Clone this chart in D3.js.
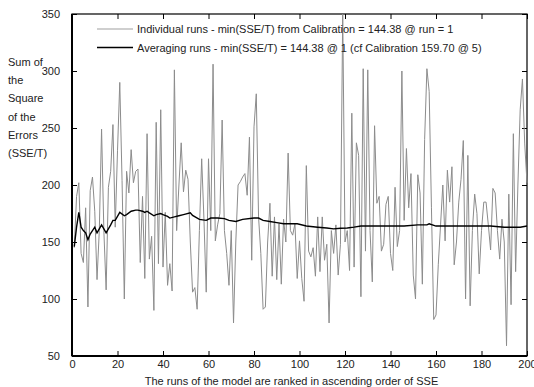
<!DOCTYPE html>
<html>
<head>
<meta charset="utf-8">
<script src="https://cdn.jsdelivr.net/npm/d3@7"></script>
<style>
  body { margin: 0; background: #fff; }
  svg { font-family: "Liberation Sans", Arial, sans-serif; }
  .axis path, .axis line { stroke: #000; }
  .axis text { font-size: 11px; fill: #222; }
</style>
</head>
<body>
<div id="chart"></div>
<script>
// individual runs, SSE/T for runs 1..200
const runValues = [
  145, 190, 202, 140, 132, 180, 93, 195, 207, 177,
  117, 160, 249, 160, 108, 198, 212, 253, 163, 230,
  290, 204, 100, 212, 193, 231, 202, 212, 214, 132,
  190, 118, 245, 135, 155, 90, 255, 131, 266, 128,
  176, 112, 131, 107, 301, 160, 200, 237, 194, 213,
  205, 150, 106, 110, 91, 160, 223, 170, 106, 223,
  160, 306, 151, 165, 175, 257, 160, 140, 112, 160,
  79, 150, 200, 203, 207, 210, 191, 242, 134, 251,
  280, 172, 140, 91, 93, 150, 184, 120, 172, 117,
  166, 113, 170, 150, 228, 160, 156, 166, 118, 151,
  118, 98, 217, 142, 137, 145, 120, 172, 124, 172,
  134, 148, 79, 160, 140, 165, 121, 148, 350, 150,
  160, 125, 263, 128, 237, 226, 102, 302, 142, 301,
  160, 115, 252, 184, 190, 142, 148, 183, 190, 140,
  125, 198, 146, 160, 300, 169, 232, 180, 210, 121,
  100, 209, 193, 113, 240, 302, 282, 180, 82, 86,
  130, 165, 200, 151, 213, 185, 216, 130, 150, 185,
  205, 239, 100, 226, 94, 160, 192, 175, 122, 160,
  185, 185, 165, 143, 197, 193, 160, 135, 170, 150,
  59, 192, 95, 245, 124, 200, 266, 293, 236, 202
]

// averaging runs, read at these run numbers
const avgRuns = [1, 2, 3, 4, 5, 6, 7, 8, 10, 11, 13, 15, 17, 18, 19, 21, 23, 24, 26, 28,
  29, 31, 32, 33, 34, 36, 37, 39, 40, 42, 43, 45, 47, 49, 52, 53, 56, 59, 61, 64,
  67, 69, 72, 75, 80, 82, 84, 87, 90, 93, 96, 99, 103, 108, 112, 115, 118, 121, 124, 127,
  130, 134, 138, 143, 146, 152, 156, 157, 160, 166, 172, 178, 184, 190, 194, 197, 200]
const avgValues = [146, 163, 176, 163, 160, 158, 152, 157, 163, 158, 165, 158, 165, 169, 169, 176, 173, 174, 177, 178,
  178, 177, 176, 177, 175.6, 173, 174, 175, 174, 172.5, 171, 172, 173, 174, 175.6, 173.3, 169.8, 169, 171, 171,
  170.5, 169, 168, 169.8, 171, 171, 169, 168, 167, 166, 166, 166, 164, 163, 162.3, 161.5, 162, 162.3, 163, 164,
  164, 164, 164, 164, 164, 165, 165, 166, 164, 164, 164, 164, 164, 163, 163, 163, 164]

const xTicks = [0, 20, 40, 60, 80, 100, 120, 140, 160, 180, 200]
const yTicks = [50, 100, 150, 200, 250, 300, 350]
const yLabelLines = ['Sum of', 'the', 'Square', 'of the', 'Errors', '(SSE/T)']
const legendLabels = [
  'Individual runs - min(SSE/T) from Calibration = 144.38 @ run = 1',
  'Averaging runs - min(SSE/T) = 144.38 @ 1 (cf Calibration 159.70 @ 5)'
]
const xTitle = 'The runs of the model are ranked in ascending order of SSE'

const W = 534, H = 387
const margin = {top: 14, right: 7, bottom: 31, left: 72}
const width = W - margin.left - margin.right
const height = H - margin.top - margin.bottom

const svg = d3.select('#chart').append('svg')
  .attr('width', W)
  .attr('height', H)

const g = svg.append('g')
  .attr('transform', `translate(${margin.left},${margin.top})`)

const x = d3.scaleLinear().domain([0, 200]).range([0, width])
const y = d3.scaleLinear().domain([50, 350]).range([height, 0])

// frame ticks, all pointing inward
g.append('g').attr('class', 'axis')
  .attr('transform', `translate(0,${height})`)
  .call(d3.axisBottom(x).tickValues(xTicks).tickSize(-5).tickSizeOuter(0).tickPadding(4))
g.append('g').attr('class', 'axis')
  .call(d3.axisTop(x).tickValues(xTicks).tickSize(-5).tickSizeOuter(0).tickFormat(''))
g.append('g').attr('class', 'axis')
  .call(d3.axisLeft(y).tickValues(yTicks).tickSize(-5).tickSizeOuter(0).tickPadding(12))
g.append('g').attr('class', 'axis')
  .attr('transform', `translate(${width},0)`)
  .call(d3.axisRight(y).tickValues(yTicks).tickSize(-5).tickSizeOuter(0).tickFormat(''))

g.selectAll('.axis .domain').remove()

g.append('rect')
  .attr('width', width).attr('height', height)
  .attr('fill', 'none').attr('stroke', '#000').attr('stroke-width', 1.2)
g.append('line').attr('x1', 0).attr('x2', 0).attr('y1', 0).attr('y2', height)
  .attr('stroke', '#000').attr('stroke-width', 2)
g.append('line').attr('x1', 0).attr('x2', width).attr('y1', height).attr('y2', height)
  .attr('stroke', '#000').attr('stroke-width', 2)

const line = d3.line()
  .x((d, i) => x(i + 1))
  .y(d => y(d))

g.append('path')
  .datum(runValues)
  .attr('fill', 'none')
  .attr('stroke', '#8c8c8c')
  .attr('stroke-width', 1)
  .attr('d', line)

const avgLine = d3.line()
  .x((d, i) => x(avgRuns[i]))
  .y(d => y(d))

g.append('path')
  .datum(avgValues)
  .attr('fill', 'none')
  .attr('stroke', '#000')
  .attr('stroke-width', 1.4)
  .attr('d', avgLine)

// legend
const legend = svg.append('g')
const legendColors = ['#a0a0a0', '#000']
legendLabels.forEach((t, i) => {
  const ly = 29 + i * 18.5
  legend.append('line')
    .attr('x1', 97).attr('x2', 133).attr('y1', ly).attr('y2', ly)
    .attr('stroke', legendColors[i]).attr('stroke-width', i ? 1.4 : 1.2)
  legend.append('text')
    .attr('x', 137).attr('y', ly + 4)
    .attr('font-size', 11).attr('fill', '#222')
    .text(t)
})

// y title
svg.append('g').selectAll('text')
  .data(yLabelLines)
  .join('text')
  .attr('x', 8)
  .attr('y', (d, i) => 66 + i * 18.2)
  .attr('font-size', 11).attr('fill', '#222')
  .text(d => d)

svg.append('text')
  .attr('x', margin.left + width / 2 - 8)
  .attr('y', 385)
  .attr('text-anchor', 'middle')
  .attr('font-size', 11).attr('fill', '#222')
  .text(xTitle)
</script>
</body>
</html>
